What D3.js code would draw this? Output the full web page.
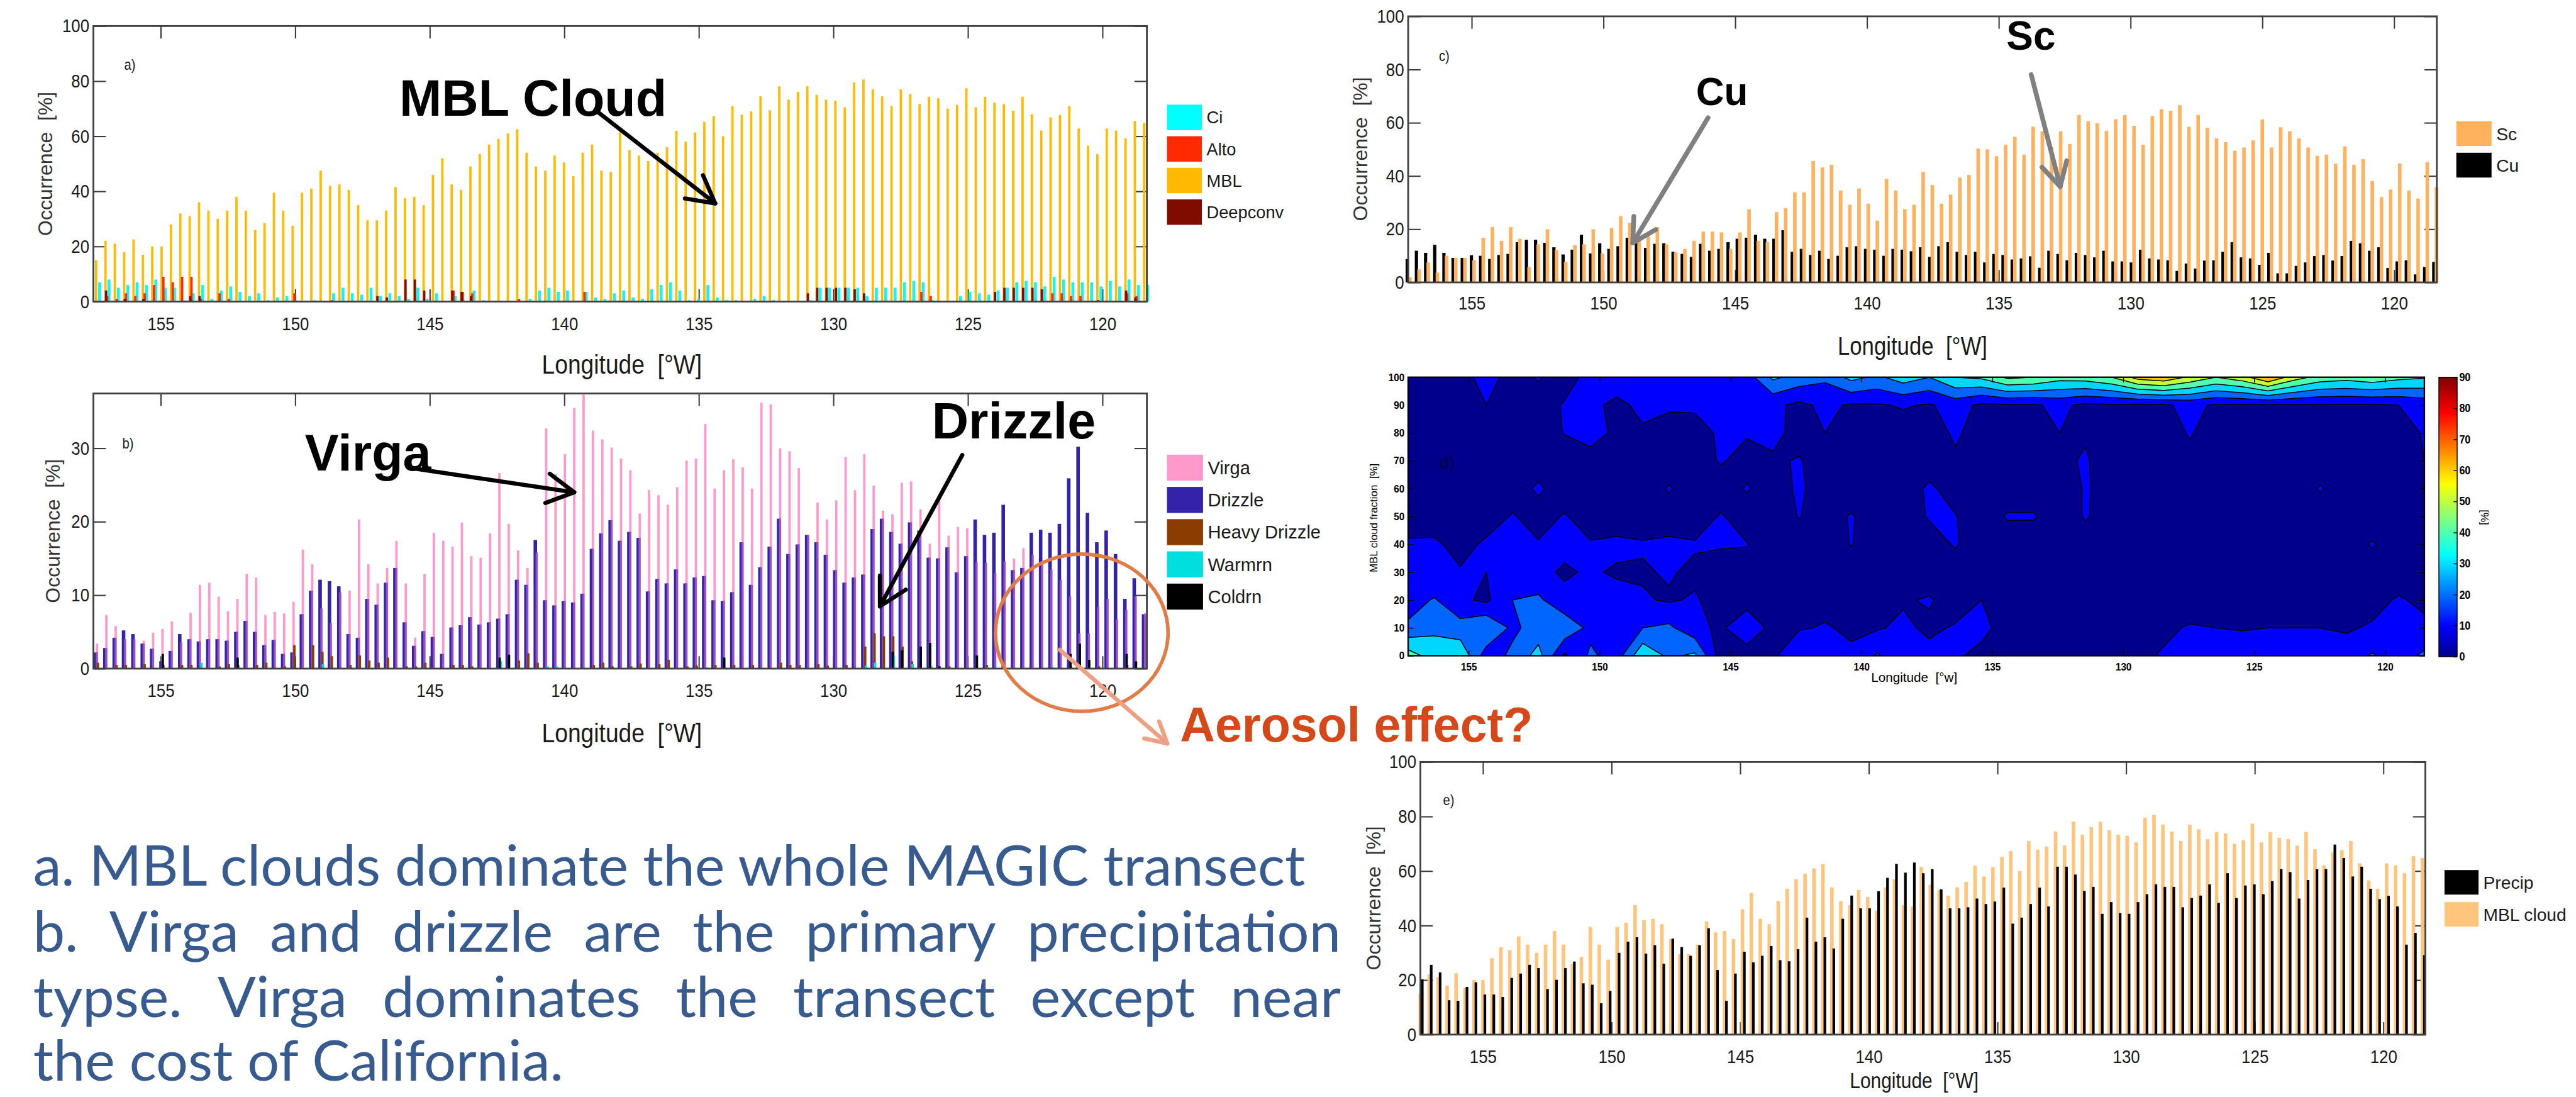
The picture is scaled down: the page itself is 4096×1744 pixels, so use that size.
<!DOCTYPE html>
<html><head><meta charset="utf-8">
<script src="https://cdnjs.cloudflare.com/ajax/libs/d3/7.8.5/d3.min.js"></script>
<style>body{margin:0;background:#fff;} svg{display:block;}</style>
</head><body>
<svg id="fig" width="4096" height="1744"></svg>
<script>
// ---------------- data ----------------
var lonTicks = [155, 150, 145, 140, 135, 130, 125, 120];

// panel a) cloud type occurrence [%]
var mbl = [15,22,21,18,22.5,17,20,20,28,32, 31,36,33,30,33,38,33,26,28.5,39.5,
  33,27.5,39.5,41,47.5,42,42.5,40.5,35,29.5, 29.5,33,41.5,37.5,38,35,46,52,42.5,40.5,
  49,53.5,57,59,61,62.5,54,49,47.5,53, 50.5,45.5,54,57,47.5,47,61.5,55,53,51,
  54,56,62,58,61.4,65.2,67.3,60,71,67.8, 69,74.5,69.4,78.1,73.3,76.1,78.1,75,73.3,72.9,
  70.5,79.5,80.6,77,74.5,71,77,75.3,71.7,74.3, 73.8,70,71.3,77.4,70.5,74.3,72.2,71.7,69.3,74.3,
  68,62.1,66.8,67.7,71,62.8,56.6,53.5,62.8,62.1, 59.2,65.5,64.8];
var ci = [7,8,5,6,7,6,8,5,5,0.5, 3,6,1,4,5.5,3.5,2,3,0.5,1.5, 2,0.5,0,0.5,0,3,5,3,2.5,5,
  2,3,2,1,5,1,3,0,2,0, 4,0.5,0,0.2,0,0,1,4,5,3.5, 4,0,3.5,1.5,1,3,4,1.5,1,4.5,
  6,7,4,0.5,1,6,1.5,0.5,0.5,0, 1,2,0.5,0,0,0,0.5,5,5,5, 5,5,2,5,5,5,7,7.5,7,0.5,
  0,0,2,3.5,3,2.5,4,5,7,7.5, 7,5.5,9,8,7,7,7,5.5,7.5,5.5, 8,6,6];
var alto = [0,2,1,3,2,3,6,9,7,9, 9,1,0,3,1,0,0,0,0,0, 0,3,0,0,0,0.5,0,0,0,0,
  0,0,0,0,0,0,0,0,4,3.5, 3,0,0,0,0,1,0,0,0,0, 0,0,3.5,0,0,0,0,0,0,0,
  0,0,0,0,0,0,0,0,0,0, 0,0,0,0,0,0,0,0,0,0, 0,0,0,0,0,0,0,0,3.5,2,
  0,0,0,0,0,0,0,0,0,0, 0,0,3,3,2,2,0,0,0,0, 3,2,0];
var deepconv = [0,4,0,1,0,1,0,0,0,0, 2,2,0,0,0,0,0,0,0,0, 0,0,0,0,0,0,0,0,0,0,
  2,1.5,0,8,8,4,0,0,4,3.5, 2,0,0,0,0,0,0,0,0,0, 0,0,0,0,0,0,0,0,0,0,
  0,0,0,0,0,0,0,0,0,0, 0,0,0,0,0,0,3,5,5,5, 5,4.5,3,0,0,0,0,0,0,0,
  0,0,0,0,0,0,3.5,5,5,5, 5,4.5,0,0,0,0,0,0.5,0,0, 4,1.5,0];

// panel b) precipitation type occurrence [%]
var virga = [3.4,7.3,5.8,4.0,4.0,3.8,4.9,5.4,6.4,3.6, 7.6,11.4,11.7,9.8,7.8,9.5,12.9,12.4,7.3,7.7,
  7.5,9.1,16.2,14.2,8.2,6.2,10.4,10.6,20.3,14.2, 11.6,13.7,17.4,11.6,4.2,12.9,18.5,17.4,16.6,19.9,
  15.3,15.1,18.4,26.6,19.7,16.1,13.7,15.8,32.7,26.5, 29.2,35.5,37.3,32.4,31.2,30.1,28.6,27.0,21.1,24.3,
  23.6,22.3,24.7,28.3,28.6,33.3,24.5,27.0,28.5,27.4, 24.5,36.2,36.0,30.0,29.6,27.3,18.2,22.6,20.3,22.9,
  28.8,24.3,29.2,24.9,21.5,21.0,25.3,25.5,21.7,17.0, 23.0,18.1,19.3,19.1,14.5,14.4,13.0,14.6,15.0,16.4,
  15.5,14.6,13.5,12.1,9.8,4.8,4.8,8.4,9.5,6.7, 8.0,9.9,7.6];
var drizzle = [2.2,2.8,4.2,5.2,4.7,3.4,2.7,1.0,2.4,4.7, 4.0,3.7,4.0,4.0,3.8,5.0,6.5,5.0,3.2,3.9,
  2.0,2.2,7.4,10.6,12.1,11.9,11.2,4.7,4.2,9.5, 8.7,11.7,13.7,6.3,3.1,5.1,4.3,2.0,5.6,5.9,
  7.0,6.0,6.3,6.8,7.4,12.1,11.4,17.5,9.3,8.6, 9.2,9.0,10.2,16.3,18.4,20.2,17.4,18.6,17.8,10.5,
  12.2,11.6,13.5,11.6,12.4,12.6,9.3,9.2,10.4,17.2, 11.4,13.8,16.6,20.4,15.6,16.9,18.2,17.2,15.5,13.4,
  11.7,12.4,12.8,19.0,20.4,18.6,17.0,19.9,18.8,15.1, 15.0,16.5,13.1,15.3,20.3,18.2,18.5,22.3,13.4,13.7,
  18.5,18.9,18.5,19.7,25.9,30.2,21.2,17.2,18.8,15.6, 9.5,12.3,7.4];
var heavyDrizzle = [0.8,0,0.5,0.5,0,0.6,0,0.5,0,0.5, 0.5,0.3,0,0.3,0.6,0.5,0,0.5,0.8,0,
  0.3,3.2,0,3.2,2.3,1.7,0,0.5,1.8,1.1, 0.8,1.5,0,0.3,0.3,0.8,0,0,0.5,0.5,
  0.3,0,0,0,0,1.1,2.1,0.8,0,0, 0,0,0,0.5,0.8,0.3,0,0.3,0.7,0,
  0.6,1.2,0,0.3,0.4,0,0.5,0,0.5,0, 0.5,0,0,0.8,0.5,0.5,0,0.6,0.4,0,
  0.5,0,3.0,4.8,4.4,4.4,3.0,1.0,0,0, 0,0.3,0,0,0,0.5,0,0,0,0,
  0,0,0,0,0.3,0,0,0.3,0,0, 0.5,0,0];
var warmrn = [0,0,0,0,0,0,0,0,0,0, 0,0.8,0,0,0,0,0,0,0,0, 0,0,0,0,0.6,0,0,0,0,0,
  0,0,0,0,0,0,0,0,0,0, 0,0,0,1.0,0,0,0,0,0.3,0.3, 0,0,0,0,0,0,0,0,0,0,
  0,0,0,0,0,0.2,0,0,0,0, 0,0,0,0,0,0,0,0,0,0, 0,0,0.4,0.8,0,1.8,0,0.6,0,0.3,
  0,0,0,0,0,0.2,0,0,0,0, 0,0,0.2,0,0,0,0,0,0,0, 0,0,0];
var coldrn = [0,0,0,0,0,0,0,2.0,0,0, 0,0,0,0,0,1.5,0,0,0,0, 0,0,0,0,0,0,0,0,0,0,
  0,0,0,0,0,0,0,0,0,0, 0,0,0,1.5,1.9,0,0,0,0,0, 0,0,0,0,0,0,0,0,0,0,
  0,0,0,0,0,0,0,1.5,0,0, 0,0,0,0,0,0,0,0,0,0, 0,0,0,0,0,2.3,2.5,0,3.0,3.5,
  0.3,0,0,0,1.8,0,0,0,0,0, 0,0,0,0,2.0,3.4,1.2,0,0,0, 2.0,1.0,0];

// panel c) Sc / Cu occurrence [%]
var sc = [2.0,4.9,7.5,3.7,10.0,9.2,9.2,8.3,16.8,20.8, 15.6,20.8,16.4,5.8,14.3,20.0,12.2,7.7,14.0,14.3,
  20.0,10.9,20.4,24.9,22.4,17.3,17.3,20.8,14.3,11.3, 12.6,15.6,19.1,19.1,18.8,12.6,18.8,27.5,15.6,15.1,
  26.4,27.9,33.8,33.8,45.6,43.2,44.2,34.5,29.2,35.3, 29.6,23.2,38.9,34.5,27.5,29.2,41.5,36.6,29.6,33.0,
  39.4,40.4,50.3,50.0,47.4,51.7,54.7,48.0,58.5,56.8, 51.0,56.8,52.0,62.9,60.6,59.8,57.0,61.3,62.9,58.9,
  51.7,62.5,65.1,64.5,66.6,58.5,62.9,58.1,54.1,52.7, 49.5,50.7,53.4,61.3,50.7,58.3,56.8,54.1,50.7,47.6,
  48.0,44.6,51.1,44.2,46.3,38.1,32.1,34.9,44.7,34.5, 31.5,45.2,35.8];
var cu = [8.8,11.9,11.1,14.1,11.1,9.2,9.2,10.2,10.0,8.8, 10.3,10.7,15.1,16.0,16.0,14.9,13.2,10.5,12.3,17.9,
  10.9,14.7,12.6,13.6,16.8,15.1,13.0,14.5,14.7,11.5, 10.7,9.6,14.5,11.9,12.6,15.1,16.4,16.8,17.9,16.4,
  16.4,19.6,11.5,12.6,10.3,11.9,8.8,10.0,13.2,13.6, 12.6,12.3,10.0,12.6,12.3,11.7,13.2,9.6,13.6,15.1,
  11.5,10.3,11.5,7.5,10.7,10.3,8.6,9.0,9.8,5.5, 11.9,10.7,8.3,11.1,10.3,9.4,11.9,7.9,7.9,7.5,
  12.3,9.0,8.6,8.3,4.3,7.1,5.2,8.2,8.3,11.5, 15.1,9.4,9.0,6.6,11.1,3.4,3.4,6.2,7.5,9.9,
  10.3,8.2,9.9,15.6,14.7,11.9,13.2,5.4,7.9,8.3, 3.0,5.8,7.7];

// panel e) precipitating fraction [%] (MBL cloud series is the same as panel a)
var precip = [20.3,25.6,22.8,12.6,12.4,17.5,19.2,14.7,14.7,13.8, 20.8,22.4,25.6,24.4,16.7,20.1,24.4,26.8,18.8,18.3,
  11.5,16.0,30.0,34.1,35.7,29.7,32.8,26.0,35.2,32.1, 28.9,32.8,39.0,23.7,12.4,22.4,30.4,26.5,28.9,32.5,
  27.3,26.9,31.3,42.9,34.1,35.7,31.6,42.5,51.0,46.3, 46.3,52.6,57.5,62.6,59.4,63.1,59.2,60.7,53.3,46.3,
  46.3,46.7,49.9,47.9,48.8,53.9,40.7,42.9,47.9,53.9, 47.0,61.6,61.6,58.7,52.7,54.2,44.3,48.6,44.6,44.3,
  48.6,51.5,55.1,54.2,54.2,46.7,50.1,51.0,55.1,48.3, 59.2,50.1,54.7,55.1,51.5,56.3,60.7,59.6,49.9,56.7,
  60.7,60.7,69.7,64.8,58.0,61.6,53.5,49.7,50.9,47.0, 33.0,37.3,29.2];

// panel d) frequency [%] by MBL cloud fraction (rows) and longitude (40 columns, 157.3W -> 118.5W)
var cf100 = [4,5,6,14,6,11,5,14,15,14, 15,14,13,15,32,26,22,33,28,35, 30,40,42,52,50,44,45,50,64,68, 58,50,56,70,55,46,44,47,43,41];
var cf90  = [3,3,4,10,4,5,11,12,8,12, 12,12,13,11,12,8,12,9,9,11, 9,14,8,9,9,12,8,9,8,9, 12,9,9,9,9,9,9,9,10,13];
var cf80  = [3,3,4,5,3,4,10.5,12,9,9, 4,5,12,11,14,5,10,5,4,5, 4,12,4,5,4,10,9,4,5,4, 11,4,5,4,4,5,4,4,5,11];
var cf70  = [2,3,3,4,3,4,3,8,5,5, 4,5,11,6,8,11,4,4,5,4, 4,8,4,3,4,8,11,4,3,4, 7,4,3,4,3,4,3,4,4,10];
var cf60  = [2,3,3,3,4,12,3,4,4,3, 11,4,4,11,4,12,4,3,4,4, 12,5,3,4,4,4,11,6,3,4, 4,3,4,4,3,11,4,3,4,5];
var cf50  = [3,4,4,4,11,5,11,4,5,4, 5,4,11,4,4,10.5,4,11,4,4, 11,10.5,4,11,11,4,11,4,3,4, 4,3,4,4,3,4,4,3,4,4];
var cf40  = [12,12,6,12,12,11,12,11,12,11, 12,11,11,10.5,4,5,4,10.5,4,5, 5,11,4,4,3,4,5,4,3,4, 4,4,3,4,4,5,4,11,4,4];
var cf30  = [14,10,11,10,12,12,9,11,9,9, 11,8,5,5,4,5,4,4,4,4, 4,4,5,4,4,4,5,4,4,4, 4,4,4,5,4,4,4,4,5,4];
var cf20  = [15,21,12,8,20,22,12,20,13,11, 9,11,6,5,6,10,6,10,5,9, 11,5,10,5,4,5,4,4,4,4, 4,4,4,4,4,4,5,7,11,8];
var cf10  = [22,28,24,30,18,24,28,17,11,20, 22,13,8,19,6,9,11,8,9,12, 8,11,12,7,10,9,6,5,5,8, 11,10,9,10,10,10,9,11,12,12];
var cf0   = [45,35,38,15,22,34,8,22,15,38, 28,32,5,4,8,20,18,12,21,15, 13,11,8,6,5,5,4,5,8,11, 12,11,18,11,12,11,14,21,15,22];
var cfLevels = [10, 20, 30, 40, 50, 60, 70, 80];
var cfColors = ["#0000ff", "#0066ff", "#00d6ff", "#52ffad", "#c2ff3d", "#ffc400", "#ff6000", "#ff0000"];
var cbTicks = [0, 10, 20, 30, 40, 50, 60, 70, 80, 90];

var noteLines = ["a. MBL clouds dominate the whole MAGIC transect",
  "b. Virga and drizzle are the primary precipitation",
  "typse. Virga dominates the transect except near",
  "the cost of California."];

// ---------------- setup ----------------
var SANS = "'Liberation Sans',Arial,Helvetica,sans-serif";
var SQ = 0.86;   // the figure's lettering is horizontally squeezed
var svg = d3.select("#fig");
var defs = svg.append("defs");
var root = svg.append("g").attr("transform", "scale(0.94)");

// bar index -> longitude (bins along the ship track)
var barLon = d3.scaleLinear().domain([0, mbl.length - 1]).range([157.4, 118.45]);

function ntext(g, x, y, size, anchor, t) {
  return g.append("text").attr("transform", "translate(" + x + "," + y + ") scale(" + SQ + ",1)")
    .attr("text-anchor", anchor).attr("font-family", SANS).attr("font-size", size)
    .attr("fill", "#1a1a1a").style("white-space", "pre").text(t);
}

function makePanel(p) {
  var x = d3.scaleLinear().domain(p.lon).range([p.left, p.right]);
  var y = d3.scaleLinear().domain([0, p.yMax]).range([p.bottom, p.top]);
  var g = root.append("g");
  var tl = 21;
  var gt = g.append("g");
  gt.append("g").attr("transform", "translate(0," + p.bottom + ")")
    .call(d3.axisBottom(x).tickValues(lonTicks).tickSizeInner(-tl).tickSizeOuter(0).tickPadding(p.xPad));
  gt.append("g").attr("transform", "translate(0," + p.top + ")")
    .call(d3.axisTop(x).tickValues(lonTicks).tickSizeInner(-tl).tickSizeOuter(0).tickFormat(""));
  gt.append("g").attr("transform", "translate(" + p.left + ",0)")
    .call(d3.axisLeft(y).tickValues(p.yTicks).tickSizeInner(-tl).tickSizeOuter(0).tickPadding(8));
  gt.append("g").attr("transform", "translate(" + p.right + ",0)")
    .call(d3.axisRight(y).tickValues(p.yTicks).tickSizeInner(-tl).tickSizeOuter(0).tickFormat(""));
  gt.selectAll(".domain").remove();
  gt.selectAll(".tick line").attr("stroke", "#3a3a3a").attr("stroke-width", 2.2);
  gt.selectAll(".tick text").attr("font-family", SANS).attr("font-size", 32).attr("fill", "#1a1a1a")
    .attr("transform", "scale(" + SQ + ",1)");
  var bars = g.append("g");
  var front = g.append("g");
  return {x: x, y: y, g: g, bars: bars, front: front, p: p};
}

function drawBars(P, data, color, w, off) {
  P.bars.append("g").selectAll("rect").data(data).join("rect")
    .attr("x", function(d, i) { return P.x(barLon(i)) - w / 2 + off; })
    .attr("y", function(d) { return P.y(d); })
    .attr("width", w)
    .attr("height", function(d) { return P.y(0) - P.y(d); })
    .attr("fill", color);
}

function finishPanel(P, xl, yl, tag) {
  var p = P.p;
  P.front.append("rect").attr("x", p.left).attr("y", p.top)
    .attr("width", p.right - p.left).attr("height", p.bottom - p.top)
    .attr("fill", "none").attr("stroke", "#404040").attr("stroke-width", 3);
  ntext(P.front, xl.x, xl.y, xl.size, "middle", "Longitude  [\u00b0W]");
  P.front.append("text").attr("transform", "translate(" + yl.x + "," + yl.y + ") rotate(-90)")
    .attr("text-anchor", "middle").attr("font-family", SANS).attr("font-size", 34).attr("fill", "#333")
    .style("white-space", "pre").text("Occurrence  [%]");
  ntext(P.front, tag.x, tag.y, 25, "start", tag.t);
}

function legend(g, items, L) {
  items.forEach(function(it, i) {
    var yTop = L.y0 + i * L.step;
    g.append("rect").attr("x", L.x).attr("y", yTop).attr("width", L.w).attr("height", L.h).attr("fill", it.color);
    g.append("text").attr("x", L.x + L.w + 8).attr("y", yTop + L.h / 2).attr("dy", "0.36em")
      .attr("font-family", SANS).attr("font-size", L.font).attr("fill", "#1a1a1a").text(it.label);
  });
}

function arrow(g, x1, y1, x2, y2, color, width, head) {
  var a = Math.atan2(y2 - y1, x2 - x1), sp = 0.5;
  g.append("line").attr("x1", x1).attr("y1", y1).attr("x2", x2).attr("y2", y2)
    .attr("stroke", color).attr("stroke-width", width).attr("stroke-linecap", "round");
  g.append("path")
    .attr("d", "M" + (x2 - head * Math.cos(a - sp)) + "," + (y2 - head * Math.sin(a - sp)) +
      "L" + x2 + "," + y2 + "L" + (x2 - head * Math.cos(a + sp)) + "," + (y2 - head * Math.sin(a + sp)))
    .attr("fill", "none").attr("stroke", color).attr("stroke-width", width)
    .attr("stroke-linecap", "round").attr("stroke-linejoin", "round");
}

function bold(g, x, y, size, color, t) {
  g.append("text").attr("x", x).attr("y", y).attr("font-family", SANS).attr("font-weight", "bold")
    .attr("font-size", size).attr("fill", color).text(t);
}

// ---------------- panel a ----------------
var A = makePanel({left: 158, right: 1940, top: 44, bottom: 510, lon: [157.5, 118.35],
  yMax: 100, yTicks: [0, 20, 40, 60, 80, 100], xPad: 25.5});
drawBars(A, mbl, "#ffbb00", 4, 0);
drawBars(A, ci, "#19f2ee", 5, 6);
drawBars(A, alto, "#ff2a00", 4, 3);
drawBars(A, deepconv, "#800c00", 4, 1);
finishPanel(A, {x: 1052, y: 632, size: 46}, {x: 88, y: 277}, {x: 210, y: 118, t: "a)"});
legend(A.front, [{label: "Ci", color: "#00ffff"}, {label: "Alto", color: "#ff2a00"},
  {label: "MBL", color: "#ffbb00"}, {label: "Deepconv", color: "#800c00"}],
  {x: 1974, y0: 177, step: 53.4, w: 59, h: 43, font: 29});
bold(A.front, A.x(146.13), A.y(67.4), 86, "#000", "MBL Cloud");
arrow(A.front, A.x(138.85), A.y(69.5), A.x(134.39), A.y(35.6), "#000", 7, 52);

// ---------------- panel b ----------------
var B = makePanel({left: 158, right: 1940, top: 665.5, bottom: 1130.8, lon: [157.5, 118.35],
  yMax: 37.45, yTicks: [0, 10, 20, 30], xPad: 25.5});
drawBars(B, virga, "#ff99cc", 4, 1.5);
drawBars(B, drizzle, "#3322aa", 6, -1);
drawBars(B, virga.map(function(v, i) { return Math.min(v, drizzle[i]); }), "#9452c4", 3.5, 1.2);
drawBars(B, heavyDrizzle, "#8b3c00", 4, 3);
drawBars(B, warmrn, "#00dede", 4, 4);
drawBars(B, coldrn, "#000000", 4, 2);
finishPanel(B, {x: 1052, y: 1255, size: 46}, {x: 101, y: 898}, {x: 207, y: 759, t: "b)"});
legend(B.front, [{label: "Virga", color: "#ff99cc"}, {label: "Drizzle", color: "#3322aa"},
  {label: "Heavy Drizzle", color: "#8b3c00"}, {label: "Warmrn", color: "#00dede"},
  {label: "Coldrn", color: "#000000"}],
  {x: 1974, y0: 769, step: 54.5, w: 61, h: 44, font: 31});
bold(B.front, B.x(149.64), B.y(26.98), 86, "#000", "Virga");
arrow(B.front, B.x(145.71), B.y(27.3), B.x(139.63), B.y(24.0), "#000", 7, 52);
bold(B.front, B.x(126.34), B.y(31.34), 86, "#000", "Drizzle");
arrow(B.front, B.x(125.21), B.y(29.07), B.x(128.27), B.y(8.47), "#000", 7, 52);
B.front.append("ellipse").attr("cx", B.x(120.77)).attr("cy", B.y(4.89)).attr("rx", 146).attr("ry", 133)
  .attr("fill", "none").attr("stroke", "#e07c48").attr("stroke-width", 6);
arrow(B.front, B.x(121.59), B.y(2.56), B.x(117.59), B.y(-10.2), "#eda083", 7, 40);
bold(B.front, B.x(117.12), B.y(-9.9), 82, "#d4481a", "Aerosol effect?");

// ---------------- panel c ----------------
var C = makePanel({left: 2382, right: 4122, top: 27.6, bottom: 477.6, lon: [157.41, 118.38],
  yMax: 100, yTicks: [0, 20, 40, 60, 80, 100], xPad: 23.5});
drawBars(C, cu, "#000000", 5.5, -2);
drawBars(C, sc, "#ffb25e", 6, 2.5);
finishPanel(C, {x: 3235, y: 600, size: 43}, {x: 2313, y: 252}, {x: 2434, y: 103, t: "c)"});
legend(C.front, [{label: "Sc", color: "#ffb25e"}, {label: "Cu", color: "#000000"}],
  {x: 4155, y0: 205, step: 53.3, w: 59.6, h: 42, font: 30});
bold(C.front, C.x(146.49), C.y(66.58), 66, "#000", "Cu");
arrow(C.front, C.x(146.03), C.y(61.9), C.x(148.89), C.y(14.8), "#808080", 8, 45);
bold(C.front, C.x(134.71), C.y(87.5), 68, "#000", "Sc");
arrow(C.front, C.x(133.77), C.y(78.1), C.x(132.67), C.y(36.0), "#808080", 8, 45);

// ---------------- panel e ----------------
var E = makePanel({left: 2402.7, right: 4102.6, top: 1288.7, bottom: 1749.8, lon: [157.43, 118.37],
  yMax: 100, yTicks: [0, 20, 40, 60, 80, 100], xPad: 25});
drawBars(E, mbl, "#ffc57d", 6, -1.5);
drawBars(E, precip, "#000000", 4.5, 1.8);
finishPanel(E, {x: 3238, y: 1840, size: 37}, {x: 2335, y: 1519}, {x: 2441, y: 1362, t: "e)"});
legend(E.front, [{label: "Precip", color: "#000000"}, {label: "MBL cloud", color: "#ffc57d"}],
  {x: 4135, y0: 1471.5, step: 54.2, w: 57.6, h: 41.5, font: 30});

// ---------------- panel d (filled contours) ----------------
var pd = {left: 2382, right: 4101, top: 638, bottom: 1109};
var xd = d3.scaleLinear().domain([157.31, 118.5]).range([pd.left, pd.right]);
var yd = d3.scaleLinear().domain([0, 100]).range([pd.bottom, pd.top]);
var cfRows = [cf100, cf90, cf80, cf70, cf60, cf50, cf40, cf30, cf20, cf10, cf0];
var nCol = cf0.length, nRow = cfRows.length;
var gridLon = d3.scaleLinear().domain([0, nCol - 1]).range([157.31, 118.5]);
var gridCf = d3.scaleLinear().domain([0, nRow - 1]).range([100, 0]);
var cfValues = [].concat.apply([], cfRows);
var bands = d3.contours().size([nCol, nRow]).thresholds(cfLevels)(cfValues);
var proj = d3.geoTransform({point: function(gx, gy) {
  this.stream.point(xd(gridLon(gx - 0.5)), yd(gridCf(gy - 0.5)));
}});
var cpath = d3.geoPath(proj);
defs.append("clipPath").attr("id", "clipD").append("rect")
  .attr("x", pd.left).attr("y", pd.top).attr("width", pd.right - pd.left).attr("height", pd.bottom - pd.top);
var D = root.append("g");
var Dc = D.append("g").attr("clip-path", "url(#clipD)");
Dc.append("rect").attr("x", pd.left).attr("y", pd.top).attr("width", pd.right - pd.left)
  .attr("height", pd.bottom - pd.top).attr("fill", "#00008c");
Dc.selectAll("path").data(bands).join("path")
  .attr("d", cpath).attr("fill", function(d, i) { return cfColors[i]; })
  .attr("stroke", "#000").attr("stroke-width", 1.6).attr("stroke-linejoin", "round");
var dt = D.append("g");
dt.append("g").attr("transform", "translate(0," + pd.bottom + ")")
  .call(d3.axisBottom(xd).tickValues(lonTicks).tickSizeInner(-9).tickSizeOuter(0).tickPadding(12));
dt.append("g").attr("transform", "translate(0," + pd.top + ")")
  .call(d3.axisTop(xd).tickValues(lonTicks).tickSizeInner(-9).tickSizeOuter(0).tickFormat(""));
dt.append("g").attr("transform", "translate(" + pd.left + ",0)")
  .call(d3.axisLeft(yd).ticks(10).tickSizeInner(-9).tickSizeOuter(0).tickPadding(7));
dt.append("g").attr("transform", "translate(" + pd.right + ",0)")
  .call(d3.axisRight(yd).ticks(10).tickSizeInner(-9).tickSizeOuter(0).tickFormat(""));
dt.selectAll(".domain").remove();
dt.selectAll(".tick line").attr("stroke", "#000").attr("stroke-width", 1.5);
dt.selectAll(".tick text").attr("font-family", SANS).attr("font-weight", "bold").attr("font-size", 18)
  .attr("fill", "#000").attr("transform", "scale(0.9,1)");
D.append("rect").attr("x", pd.left).attr("y", pd.top).attr("width", pd.right - pd.left)
  .attr("height", pd.bottom - pd.top).attr("fill", "none").attr("stroke", "#000").attr("stroke-width", 2.5);
D.append("text").attr("x", 2434).attr("y", 793).attr("font-family", SANS).attr("font-size", 30)
  .attr("fill", "#000040").text("d)");
D.append("text").attr("transform", "translate(2330,876) rotate(-90)").attr("text-anchor", "middle")
  .attr("font-family", SANS).attr("font-size", 18).attr("fill", "#000").style("white-space", "pre")
  .text("MBL cloud fraction  [%]");
D.append("text").attr("x", 3238).attr("y", 1153).attr("text-anchor", "middle")
  .attr("font-family", SANS).attr("font-size", 22).attr("fill", "#000").style("white-space", "pre")
  .text("Longitude  [\u00b0w]");

// colorbar
var jetStops = [[0, "#00008f"], [0.111, "#0000ff"], [0.365, "#00ffff"], [0.619, "#ffff00"], [0.873, "#ff0000"], [1, "#800000"]];
var grad = defs.append("linearGradient").attr("id", "jet").attr("x1", 0).attr("y1", 1).attr("x2", 0).attr("y2", 0);
jetStops.forEach(function(s) { grad.append("stop").attr("offset", s[0]).attr("stop-color", s[1]); });
var cb = {left: 4125.5, right: 4156.4, top: 638, bottom: 1110.7};
var yc = d3.scaleLinear().domain([0, 90]).range([cb.bottom, cb.top]);
D.append("rect").attr("x", cb.left).attr("y", cb.top).attr("width", cb.right - cb.left)
  .attr("height", cb.bottom - cb.top).attr("fill", "url(#jet)").attr("stroke", "#000").attr("stroke-width", 1.5);
var cbAxis = D.append("g").attr("transform", "translate(" + cb.right + ",0)")
  .call(d3.axisRight(yc).tickValues(cbTicks).tickSizeInner(-6).tickSizeOuter(0).tickPadding(4));
cbAxis.select(".domain").remove();
cbAxis.selectAll(".tick line").attr("stroke", "#000").attr("stroke-width", 1.5);
cbAxis.selectAll(".tick text").attr("font-family", SANS).attr("font-weight", "bold").attr("font-size", 19)
  .attr("fill", "#000").attr("transform", "scale(0.9,1)");
D.append("text").attr("transform", "translate(4197,875) rotate(90)").attr("text-anchor", "middle")
  .attr("font-family", SANS).attr("font-size", 18).attr("fill", "#000").text("[%]");

// ---------------- notes ----------------
var notes = root.append("g").attr("fill", "#375a8f").attr("font-family", "Lato, 'Open Sans', sans-serif");
var noteBase = [1498, 1610, 1720, 1828];
var noteJustify = [false, true, true, false];
var noteLeft = 56, noteRight = 2268;
var probe = notes.append("text").attr("font-size", 95).text(noteLines[0]);
var noteSize = 95 * 2152 / probe.node().getComputedTextLength();
probe.remove();
noteLines.forEach(function(line, li) {
  if (!noteJustify[li]) {
    notes.append("text").attr("x", noteLeft).attr("y", noteBase[li]).attr("font-size", noteSize).text(line);
    return;
  }
  var words = line.split(" ");
  var nodes = words.map(function(w) {
    return notes.append("text").attr("y", noteBase[li]).attr("font-size", noteSize).text(w);
  });
  var widths = nodes.map(function(n) { return n.node().getComputedTextLength(); });
  var gap = (noteRight - noteLeft - d3.sum(widths)) / (words.length - 1);
  var cx = noteLeft;
  nodes.forEach(function(n, i) { n.attr("x", cx); cx += widths[i] + gap; });
});
</script>
</body></html>
